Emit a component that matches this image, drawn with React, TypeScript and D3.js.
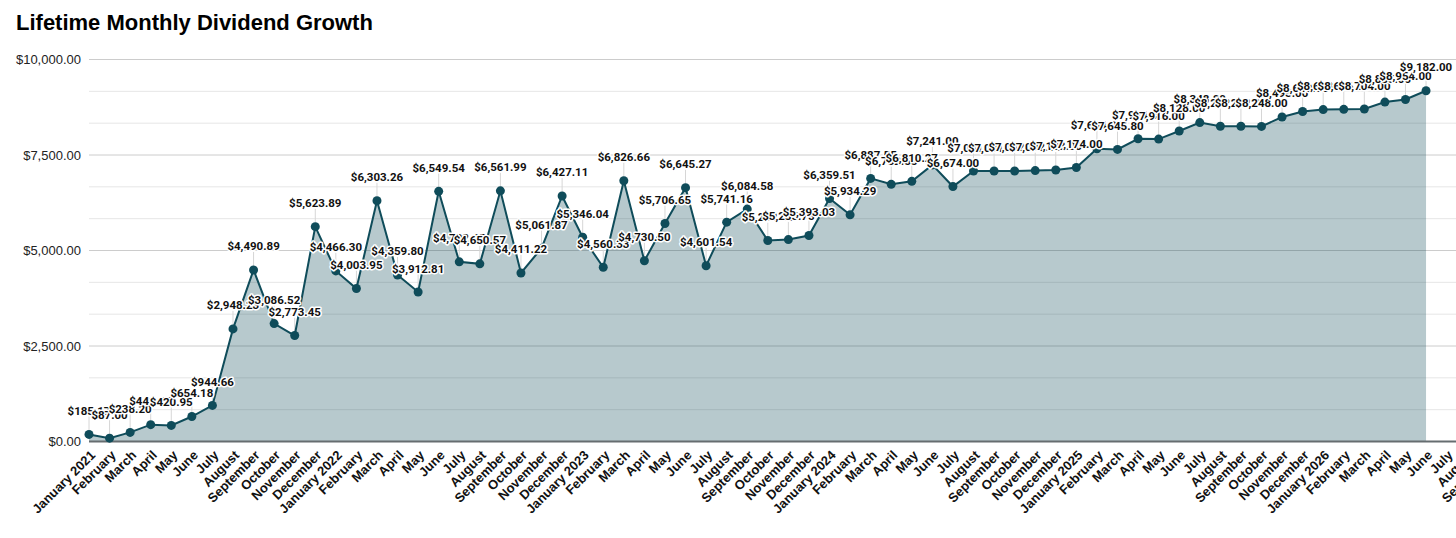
import { useMemo } from 'react';
import * as d3 from 'd3';

// category axis runs a few months past the last data point
const months = [
  'January 2021', 'February', 'March', 'April', 'May', 'June', 'July', 'August', 'September', 'October', 'November', 'December',
  'January 2022', 'February', 'March', 'April', 'May', 'June', 'July', 'August', 'September', 'October', 'November', 'December',
  'January 2023', 'February', 'March', 'April', 'May', 'June', 'July', 'August', 'September', 'October', 'November', 'December',
  'January 2024', 'February', 'March', 'April', 'May', 'June', 'July', 'August', 'September', 'October', 'November', 'December',
  'January 2025', 'February', 'March', 'April', 'May', 'June', 'July', 'August', 'September', 'October', 'November', 'December',
  'January 2026', 'February', 'March', 'April', 'May', 'June', 'July', 'August', 'September',
];

const dividends = [
  185.17, 87.0, 238.2, 441.27, 420.95, 654.18, 944.66, 2948.23, 4490.89, 3086.52, 2773.45, 5623.89,
  4466.3, 4003.95, 6303.26, 4359.8, 3912.81, 6549.54, 4702.45, 4650.57, 6561.99, 4411.22, 5061.87, 6427.11,
  5346.04, 4560.33, 6826.66, 4730.5, 5706.65, 6645.27, 4601.54, 5741.16, 6084.58, 5262.4, 5285.75, 5393.03,
  6359.51, 5934.29, 6887.55, 6732.55, 6810.27, 7241.0, 6674.0, 7081.0, 7081.0, 7082.0, 7092.0, 7108.0,
  7174.0, 7664.0, 7645.8, 7924.0, 7916.0, 8128.0, 8348.0, 8252.0, 8252.0, 8248.0, 8495.0, 8640.0,
  8688.0, 8696.0, 8704.0, 8885.0, 8954.0, 9182.0,
];

const yTicks = [0, 2500, 5000, 7500, 10000];

const W = 1456;
const H = 538;
const LINE = '#0f4c5a';

const money = (v: number) => '$' + d3.format(',.2f')(v);

export default function App() {
  const x = useMemo(
    () => d3.scalePoint<number>().domain(d3.range(months.length)).range([89, 89 + (months.length - 1) * 20.57]),
    []
  );
  const y = useMemo(() => d3.scaleLinear().domain([0, 10000]).range([441.5, 59.5]), []);

  // minor lines: two between each labelled tick
  const gridVals = d3.range(0, 10001, 2500 / 3);

  const pts = dividends.map((v, i) => ({ i, v }));
  const area = d3.area<{ i: number; v: number }>()
    .x(d => x(d.i)!)
    .y0(y(0))
    .y1(d => y(d.v));
  const line = d3.line<{ i: number; v: number }>()
    .x(d => x(d.i)!)
    .y(d => y(d.v));

  return (
    <svg width={W} height={H} style={{ position: 'absolute', left: 0, top: 0, background: '#fff' }}>
      <text x={16} y={30} fontFamily="'Liberation Sans', Arial, sans-serif" fontWeight="bold" fontSize={22} fill="#000">
        Lifetime Monthly Dividend Growth
      </text>

      {/* grid */}
      {gridVals.map((g, k) => (
        <line key={k} x1={89} x2={W} y1={y(g)} y2={y(g)}
          stroke={k % 3 === 0 ? '#cccccc' : '#e6e6e6'} strokeWidth={1} />
      ))}

      {yTicks.map(t => (
        <text key={t} x={81} y={y(t) + 4.5} textAnchor="end"
          fontFamily="'Liberation Sans', Arial, sans-serif" fontSize={13} fill="#222">
          {money(t)}
        </text>
      ))}

      {/* leader lines from point up to its label */}
      {pts.map(d => (
        <line key={'l' + d.i} x1={x(d.i)} x2={x(d.i)} y1={y(d.v) - 4} y2={y(d.v) - 18}
          stroke="#d6d6d6" strokeWidth={1} />
      ))}

      <path d={area(pts) ?? ''} fill={LINE} fillOpacity={0.3} />
      <line x1={89} x2={W} y1={y(0)} y2={y(0)} stroke="#666d70" strokeWidth={2} />
      <path d={line(pts) ?? ''} fill="none" stroke={LINE} strokeWidth={2} />

      {pts.map(d => (
        <circle key={'c' + d.i} cx={x(d.i)} cy={y(d.v)} r={4.5} fill={LINE} />
      ))}

      {pts.map(d => (
        <text key={'t' + d.i} x={x(d.i)} y={y(d.v) - 19.5} textAnchor="middle"
          fontFamily="Roboto, sans-serif" fontWeight="bold" fontSize={11.5} fill="#111"
          stroke="#fff" strokeWidth={3} strokeLinejoin="round" paintOrder="stroke">
          {money(d.v)}
        </text>
      ))}

      {months.map((m, i) => (
        <text key={'m' + i} transform={`translate(${x(i)! + 7},${456}) rotate(-45)`} textAnchor="end"
          fontFamily="'Liberation Sans', Arial, sans-serif" fontWeight="bold" fontSize={13} fill="#111">
          {m}
        </text>
      ))}
    </svg>
  );
}
